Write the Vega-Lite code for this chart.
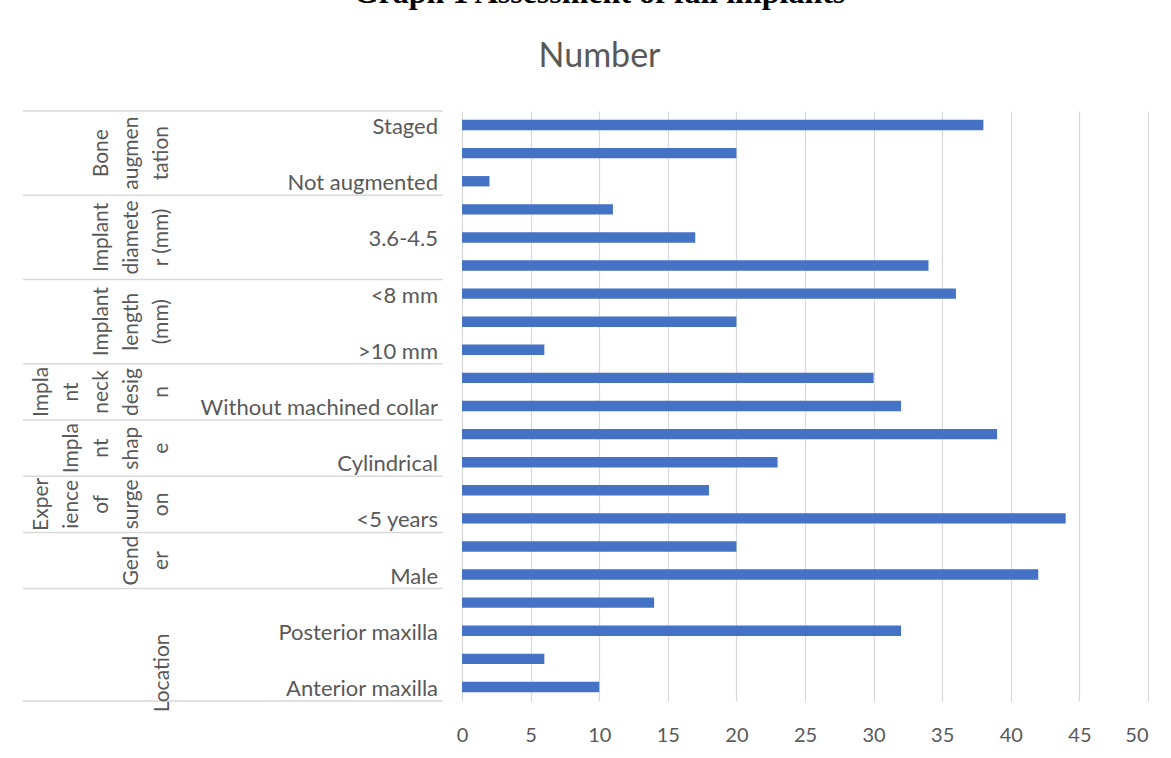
{
  "$schema": "https://vega.github.io/schema/vega-lite/v6.json",
  "width": 1125,
  "height": 590,
  "autosize": "none",
  "padding": {"left": 23, "top": 111, "right": 23, "bottom": 57},
  "background": "white",
  "config": {"view": {"stroke": null}},
  "title": {
    "text": "Graph 1 Assessment of fail implants",
    "subtitle": "Number",
    "anchor": "middle",
    "dx": 14,
    "font": "Liberation Serif",
    "fontSize": 32,
    "fontWeight": "bold",
    "color": "#000000",
    "subtitleFont": "Lato",
    "subtitleFontSize": 34,
    "subtitleColor": "#595959",
    "subtitlePadding": 30,
    "offset": 35
  },
  "datasets": {
    "bars": [
      {"group": "Bone augmentation", "category": "Staged", "value": 38},
      {"group": "Bone augmentation", "category": "Simultaneous", "value": 20},
      {"group": "Bone augmentation", "category": "Not augmented", "value": 2},
      {"group": "Implant diameter (mm)", "category": "<3.6", "value": 11},
      {"group": "Implant diameter (mm)", "category": "3.6-4.5", "value": 17},
      {"group": "Implant diameter (mm)", "category": ">4.5", "value": 34},
      {"group": "Implant length (mm)", "category": "<8 mm", "value": 36},
      {"group": "Implant length (mm)", "category": "8-10 mm", "value": 20},
      {"group": "Implant length (mm)", "category": ">10 mm", "value": 6},
      {"group": "Implant neck design", "category": "With machined collar", "value": 30},
      {"group": "Implant neck design", "category": "Without machined collar", "value": 32},
      {"group": "Implant shape", "category": "Tapered", "value": 39},
      {"group": "Implant shape", "category": "Cylindrical", "value": 23},
      {"group": "Experience of surgeon", "category": ">5 years", "value": 18},
      {"group": "Experience of surgeon", "category": "<5 years", "value": 44},
      {"group": "Gender", "category": "Female", "value": 20},
      {"group": "Gender", "category": "Male", "value": 42},
      {"group": "Location", "category": "Posterior mandible", "value": 14},
      {"group": "Location", "category": "Posterior maxilla", "value": 32},
      {"group": "Location", "category": "Anterior mandible", "value": 6},
      {"group": "Location", "category": "Anterior maxilla", "value": 10}
    ],
    "groups": [
      {"group": "Bone augmentation", "lines": ["Bone", "augmen", "tation"], "first": "Staged", "middle": "Simultaneous", "size": 3},
      {"group": "Implant diameter (mm)", "lines": ["Implant", "diamete", "r (mm)"], "first": "<3.6", "middle": "3.6-4.5", "size": 3},
      {"group": "Implant length (mm)", "lines": ["Implant", "length", "(mm)"], "first": "<8 mm", "middle": "8-10 mm", "size": 3},
      {"group": "Implant neck design", "lines": ["Impla", "nt", "neck", "desig", "n"], "first": "With machined collar", "middle": "With machined collar", "size": 2},
      {"group": "Implant shape", "lines": ["Impla", "nt", "shap", "e"], "first": "Tapered", "middle": "Tapered", "size": 2},
      {"group": "Experience of surgeon", "lines": ["Exper", "ience", "of", "surge", "on"], "first": ">5 years", "middle": ">5 years", "size": 2},
      {"group": "Gender", "lines": ["Gend", "er"], "first": "Female", "middle": "Female", "size": 2},
      {"group": "Location", "lines": ["Location"], "first": "Posterior mandible", "middle": "Anterior mandible", "size": 4}
    ]
  },
  "layer": [
    {
      "data": {"name": "bars"},
      "mark": {"type": "bar", "color": "#4472C4", "height": {"band": 0.37}},
      "encoding": {
        "y": {
          "field": "category",
          "type": "nominal",
          "scale": {
            "domain": ["Staged", "Simultaneous", "Not augmented", "<3.6", "3.6-4.5", ">4.5", "<8 mm", "8-10 mm", ">10 mm", "With machined collar", "Without machined collar", "Tapered", "Cylindrical", ">5 years", "<5 years", "Female", "Male", "Posterior mandible", "Posterior maxilla", "Anterior mandible", "Anterior maxilla"],
            "paddingInner": 0,
            "paddingOuter": 0
          },
          "axis": null
        },
        "x": {
          "field": "value",
          "type": "quantitative",
          "scale": {"domain": [-32, 50], "nice": false, "zero": false},
          "axis": {
            "values": [0, 5, 10, 15, 20, 25, 30, 35, 40, 45, 50],
            "title": null,
            "domain": false,
            "ticks": false,
            "grid": true,
            "gridColor": "#d9d9d9",
            "gridWidth": 1.2,
            "labelFont": "Lato",
            "labelFontSize": 20,
            "labelColor": "#595959",
            "labelPadding": 24
          }
        }
      }
    },
    {
      "data": {"name": "bars"},
      "transform": [
        {"filter": "indexof(['Staged','Not augmented','3.6-4.5','<8 mm','>10 mm','Without machined collar','Cylindrical','<5 years','Male','Posterior maxilla','Anterior maxilla'], datum.category) >= 0"}
      ],
      "mark": {"type": "text", "align": "right", "baseline": "middle", "dx": -24, "dy": 2, "font": "Lato", "fontSize": 22, "color": "#595959"},
      "encoding": {
        "y": {"field": "category", "type": "nominal"},
        "x": {"datum": 0, "type": "quantitative"},
        "text": {"field": "category"}
      }
    },
    {
      "data": {"name": "groups"},
      "mark": {"type": "rule", "color": "#d9d9d9", "strokeWidth": 1.5},
      "encoding": {
        "y": {"field": "first", "type": "nominal", "bandPosition": 0},
        "x": {"datum": -32, "type": "quantitative"},
        "x2": {"datum": -1.4}
      }
    },
    {
      "data": {"name": "groups"},
      "transform": [{"filter": "datum.group == 'Location'"}],
      "mark": {"type": "rule", "color": "#d9d9d9", "strokeWidth": 1.5},
      "encoding": {
        "y": {"datum": "Anterior maxilla", "type": "nominal", "bandPosition": 1},
        "x": {"datum": -32, "type": "quantitative"},
        "x2": {"datum": -1.4}
      }
    },
    {
      "data": {"name": "groups"},
      "transform": [{"filter": "datum.size == 3"}],
      "mark": {"type": "text", "angle": 270, "align": "center", "baseline": "bottom", "lineHeight": 30, "font": "Lato", "fontSize": 21, "color": "#595959"},
      "encoding": {
        "y": {"field": "middle", "type": "nominal", "bandPosition": 0.5},
        "x": {"datum": -25.5, "type": "quantitative"},
        "text": {"field": "lines"}
      }
    },
    {
      "data": {"name": "groups"},
      "transform": [{"filter": "datum.size != 3 && length(datum.lines) == 5"}],
      "mark": {"type": "text", "angle": 270, "align": "center", "baseline": "bottom", "lineHeight": 30, "font": "Lato", "fontSize": 21, "color": "#595959"},
      "encoding": {
        "y": {"field": "middle", "type": "nominal", "bandPosition": 1},
        "x": {"datum": -29.9, "type": "quantitative"},
        "text": {"field": "lines"}
      }
    },
    {
      "data": {"name": "groups"},
      "transform": [{"filter": "datum.size != 3 && length(datum.lines) == 4"}],
      "mark": {"type": "text", "angle": 270, "align": "center", "baseline": "bottom", "lineHeight": 30, "font": "Lato", "fontSize": 21, "color": "#595959"},
      "encoding": {
        "y": {"field": "middle", "type": "nominal", "bandPosition": 1},
        "x": {"datum": -27.7, "type": "quantitative"},
        "text": {"field": "lines"}
      }
    },
    {
      "data": {"name": "groups"},
      "transform": [{"filter": "datum.size != 3 && length(datum.lines) == 2"}],
      "mark": {"type": "text", "angle": 270, "align": "center", "baseline": "bottom", "lineHeight": 30, "font": "Lato", "fontSize": 21, "color": "#595959"},
      "encoding": {
        "y": {"field": "middle", "type": "nominal", "bandPosition": 1},
        "x": {"datum": -23.3, "type": "quantitative"},
        "text": {"field": "lines"}
      }
    },
    {
      "data": {"name": "groups"},
      "transform": [{"filter": "datum.size != 3 && length(datum.lines) == 1"}],
      "mark": {"type": "text", "angle": 270, "align": "center", "baseline": "bottom", "lineHeight": 30, "font": "Lato", "fontSize": 21, "color": "#595959"},
      "encoding": {
        "y": {"field": "middle", "type": "nominal", "bandPosition": 1},
        "x": {"datum": -21.1, "type": "quantitative"},
        "text": {"field": "lines"}
      }
    }
  ]
}
